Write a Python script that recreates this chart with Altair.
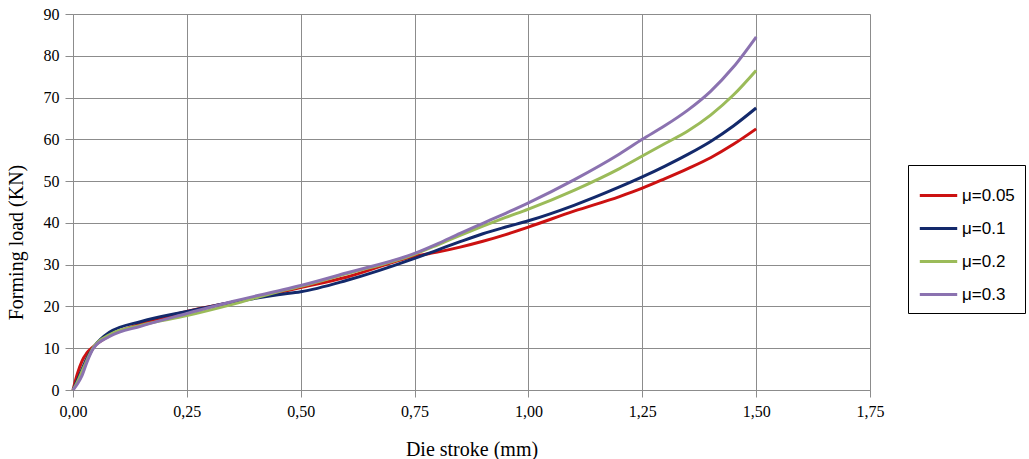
import altair as alt
import pandas as pd

stroke = [0, 0.01, 0.02, 0.03, 0.045, 0.08, 0.15, 0.25, 0.35, 0.45, 0.5, 0.6, 0.75,
          0.8, 0.85, 0.9, 0.95, 1.0, 1.1, 1.2, 1.25, 1.3, 1.35, 1.4, 1.45, 1.5]

load_005 = [0, 4, 7, 8.8, 10.4, 13, 15.8, 18.8, 21, 23.3, 24.5, 27, 32,
            33, 34.2, 35.6, 37.2, 39, 42.8, 46.3, 48.3, 50.6, 53, 55.6, 58.8, 62.5]
load_01 = [0, 2.5, 5, 7.5, 10.2, 13.8, 16.4, 18.8, 21, 22.8, 23.5, 26.2, 31.5,
           33.5, 35.5, 37.4, 39, 40.5, 44.2, 48.6, 51, 53.6, 56.4, 59.5, 63.2, 67.5]
load_02 = [0, 2, 4.5, 7, 10.2, 13.2, 15.5, 17.8, 20.5, 23.5, 24.8, 27.8, 32.5,
           34.7, 37, 39.2, 41.3, 43.3, 47.8, 53, 56, 59, 62, 65.8, 70.6, 76.5]
load_03 = [0, 1.5, 3.5, 6.5, 10, 12.8, 15.3, 18.3, 21.2, 23.7, 25, 28, 32.7,
           35, 37.5, 39.9, 42.3, 44.8, 50.3, 56.5, 60, 63.3, 67, 71.5, 77.3, 84.5]

series = ["μ=0.05", "μ=0.1", "μ=0.2", "μ=0.3"]
colors = ["#CC1111", "#13296B", "#9BBB59", "#8B72B0"]

rows = []
for name, vals in zip(series, [load_005, load_01, load_02, load_03]):
    for i, (s, v) in enumerate(zip(stroke, vals)):
        rows.append({"stroke": s, "load": v, "series": name, "order": i})
df = pd.DataFrame(rows)

grid = "#8C8C8C"

chart = alt.Chart(df).mark_line(strokeWidth=3, interpolate="monotone").encode(
    x=alt.X("stroke:Q",
            scale=alt.Scale(domain=[0, 1.75], nice=False, zero=True),
            axis=alt.Axis(values=[0, 0.25, 0.5, 0.75, 1.0, 1.25, 1.5, 1.75],
                          labelExpr="replace(format(datum.value, '.2f'), '.', ',')",
                          title="Die stroke (mm)",
                          titleFont="Liberation Serif", titleFontSize=20,
                          titleFontWeight="normal", titleColor="#000000",
                          titlePadding=20,
                          labelFont="Liberation Serif", labelFontSize=16,
                          labelColor="#000000", labelPadding=6,
                          tickSize=7, tickColor=grid, domainColor=grid,
                          gridColor=grid, gridWidth=1, labelFlush=False)),
    y=alt.Y("load:Q",
            scale=alt.Scale(domain=[0, 90], nice=False),
            axis=alt.Axis(values=list(range(0, 91, 10)),
                          title="Forming  load (KN)",
                          titleFont="Liberation Serif", titleFontSize=20,
                          titleFontWeight="normal", titleColor="#000000",
                          titleX=-47, titleY=228,
                          labelFont="Liberation Serif", labelFontSize=16,
                          labelColor="#000000", labelPadding=6,
                          tickSize=8, tickColor=grid, domainColor=grid,
                          gridColor=grid, gridWidth=1)),
    color=alt.Color("series:N",
                    scale=alt.Scale(domain=series, range=colors),
                    legend=alt.Legend(title=None, orient="none",
                                      legendX=835, legendY=151,
                                      symbolType="stroke", symbolSize=1400,
                                      symbolStrokeWidth=3,
                                      labelFont="Liberation Sans", labelFontSize=17,
                                      labelColor="#000000",
                                      rowPadding=4, padding=10,
                                      strokeColor="#000000", fillColor="#FFFFFF",
                                      labelOffset=3)),
    order="order:Q",
).properties(
    width=797, height=376,
    autosize=alt.AutoSizeParams(type="none"),
    padding={"left": 73, "top": 14, "right": 159, "bottom": 69},
).configure_view(
    stroke=grid, strokeWidth=1
).configure(
    background="#FFFFFF"
)

chart.save("out.html", embed_options={"renderer": "svg", "actions": False})
